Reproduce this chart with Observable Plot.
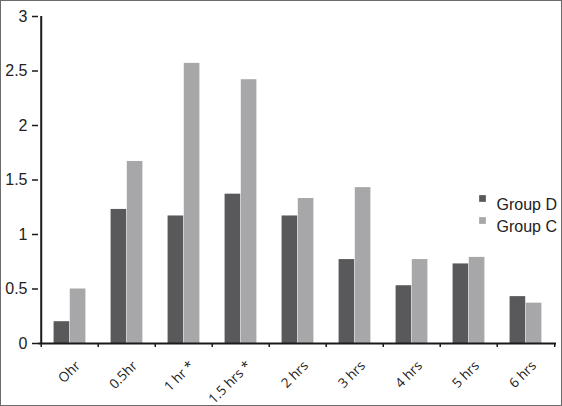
<!DOCTYPE html>
<html>
<head>
<meta charset="utf-8">
<script src="https://cdn.jsdelivr.net/npm/d3@7"></script>
<script src="https://cdn.jsdelivr.net/npm/@observablehq/plot@0.6"></script>
<style>
  html, body { margin: 0; padding: 0; background: #fff; }
  #chart svg { display: block; border: 1px solid #6b6b6b; }
</style>
</head>
<body>
<div id="chart"></div>
<script>
const categories = ["Ohr", "0.5hr", "1 hr *", "1.5 hrs *", "2 hrs", "3 hrs", "4 hrs", "5 hrs", "6 hrs"];
const groupD = [0.20, 1.23, 1.17, 1.37, 1.17, 0.77, 0.53, 0.73, 0.43];
const groupC = [0.50, 1.67, 2.57, 2.42, 1.33, 1.43, 0.77, 0.79, 0.37];
const yTicks = [0, 0.5, 1, 1.5, 2, 2.5, 3];
const seriesNames = ["Group D", "Group C"];
const colors = ["#59595c", "#a7a7a9"];

const data = categories.map((c, i) => ({time: c, D: groupD[i], C: groupC[i]}));

const W = 560, H = 404;
const mL = 37, mR = 5, mT = 15, mB = 62;
const step = (W - mL - mR) / categories.length;
const outer = step * 0.21875;
const mid = step * 0.5;

const chart = Plot.plot({
  width: W,
  height: H,
  marginLeft: mL,
  marginRight: mR,
  marginTop: mT,
  marginBottom: mB,
  style: {fontFamily: "'Liberation Sans', Arial, sans-serif", color: "#222", background: "#fff"},
  x: {domain: categories, type: "band", padding: 0, label: null},
  y: {domain: [0, 3], label: null},
  marks: [
    Plot.barY(data, {x: "time", y: "D", fill: colors[0], insetLeft: outer, insetRight: step - mid}),
    Plot.barY(data, {x: "time", y: "C", fill: colors[1], insetLeft: mid, insetRight: outer}),
    Plot.axisY({ticks: yTicks, tickSize: 6, tickPadding: 5, fontSize: "16px", tickFormat: d => String(d), stroke: "#1a1a1a", strokeWidth: 1.5, fill: "#222", label: null}),
    Plot.ruleX([categories[0]], {dx: -step / 2, y1: 0, y2: 3, stroke: "#1a1a1a", strokeWidth: 2}),
    Plot.ruleY([0], {stroke: "#1a1a1a", strokeWidth: 2}),
    Plot.axisX({ticks: categories, tickSize: 4, dx: -step / 2, tickFormat: () => "", stroke: "#1a1a1a", strokeWidth: 1.5, label: null}),
    Plot.axisX({ticks: [categories[categories.length - 1]], tickSize: 4, dx: step / 2, tickFormat: () => "", stroke: "#1a1a1a", strokeWidth: 1.5, label: null}),
    Plot.axisX({ticks: categories, tickSize: 0, tickRotate: -45, tickPadding: 20, fontSize: "13.5px", fontFamily: "'Open Sans', sans-serif", fill: "#222", dx: 8, label: null}),
    Plot.dot([seriesNames[0]], {frameAnchor: "top-left", dx: 444, dy: 182, symbol: "square", r: 3.8, fill: colors[0]}),
    Plot.dot([seriesNames[1]], {frameAnchor: "top-left", dx: 444, dy: 204, symbol: "square", r: 3.8, fill: colors[1]}),
    Plot.text([seriesNames[0]], {frameAnchor: "top-left", dx: 458, dy: 182, text: d => d, textAnchor: "start", fontSize: "16px", fill: "#222"}),
    Plot.text([seriesNames[1]], {frameAnchor: "top-left", dx: 458, dy: 204, text: d => d, textAnchor: "start", fontSize: "16px", fill: "#222"})
  ]
});
document.getElementById("chart").appendChild(chart);
</script>
</body>
</html>
